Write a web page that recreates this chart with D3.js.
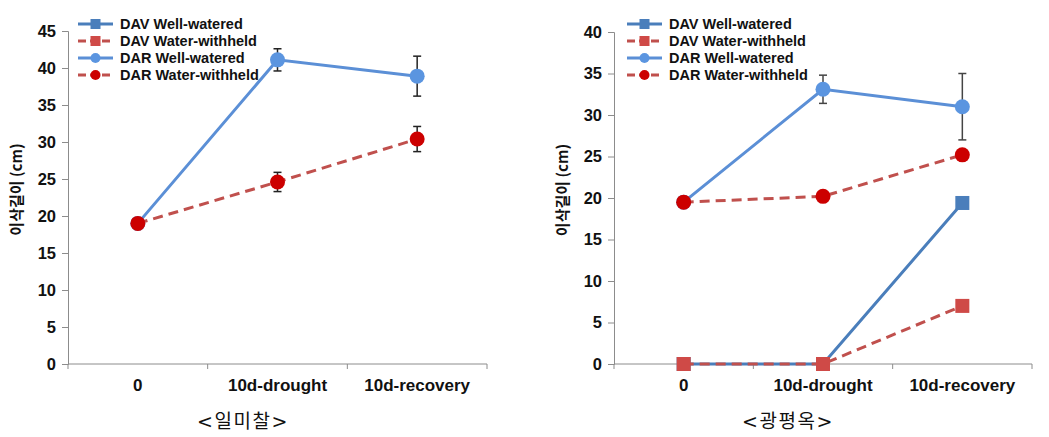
<!DOCTYPE html>
<html><head><meta charset="utf-8">
<script src="https://cdn.jsdelivr.net/npm/d3@7"></script>
<style>
body{margin:0;background:#fff;}
svg{display:block;}
</style></head>
<body>
<svg id="chart" width="1049" height="437"></svg>
<script>
const categories = ["0", "10d-drought", "10d-recovery"];
const seriesNames = ["DAV Well-watered", "DAV Water-withheld", "DAR Well-watered", "DAR Water-withheld"];

// Left panel <일미찰>
const leftTitle = "<일미찰>";
const leftTicks = [0, 5, 10, 15, 20, 25, 30, 35, 40, 45];
const leftDavWW = [null, null, null];
const leftDavWH = [null, null, null];
const leftDarWW = [19.0, 41.1, 38.9];
const leftDarWH = [19.0, 24.6, 30.4];
const leftDarWWErr = [0, 1.5, 2.7];
const leftDarWHErr = [0, 1.3, 1.7];

// Right panel <광평옥>
const rightTitle = "<광평옥>";
const rightTicks = [0, 5, 10, 15, 20, 25, 30, 35, 40];
const rightDavWW = [0, 0, 19.4];
const rightDavWH = [0, 0, 7.0];
const rightDarWW = [19.5, 33.1, 31.0];
const rightDarWH = [19.5, 20.2, 25.2];
const rightDarWWErr = [0, 1.7, 4.0];
const rightDarWHErr = [0, 0, 0];

const yTitle = "이삭길이 (cm)";

const styles = [
  {color: "#4a7ebb", dash: null, marker: "square", fill: "#4a7ebb"},
  {color: "#c0504d", dash: "10,6", marker: "square", fill: "#cf4a47"},
  {color: "#5b8fd6", dash: null, marker: "circle", fill: "#5b95e0"},
  {color: "#c0504d", dash: "10,6", marker: "circle", fill: "#cc0000"}
];

const svg = d3.select("#chart");
const fontLatin = "'Liberation Sans', Arial, sans-serif";
const fontKr = "'Noto Sans CJK KR', sans-serif";

function drawPanel(cfg) {
  const g = svg.append("g");
  const x = d3.scaleBand().domain(categories).range([cfg.x0, cfg.x1]);
  const y = d3.scaleLinear().domain([0, cfg.yMax]).range([cfg.yBottom, cfg.yTop]);

  const yAxis = d3.axisLeft(y).tickValues(cfg.ticks).tickSize(6).tickPadding(6);
  const ya = g.append("g").attr("transform", `translate(${cfg.x0},0)`).call(yAxis);
  ya.select(".domain").attr("stroke", "#8c8c8c");
  ya.selectAll(".tick line").attr("stroke", "#8c8c8c");
  ya.selectAll(".tick text").attr("font-family", fontLatin).attr("font-weight", "bold")
    .attr("font-size", 16.5).attr("fill", "#111");

  const xa = g.append("g").attr("transform", `translate(0,${cfg.yBottom})`);
  xa.append("line").attr("x1", cfg.x0).attr("x2", cfg.x1).attr("stroke", "#8c8c8c");
  const bounds = [cfg.x0, ...categories.map(c => x(c) + x.bandwidth())];
  xa.selectAll("line.tk").data(bounds).join("line").attr("class", "tk")
    .attr("x1", d => d).attr("x2", d => d).attr("y1", 0).attr("y2", 5).attr("stroke", "#8c8c8c");
  xa.selectAll("text").data(categories).join("text")
    .attr("x", d => x(d) + x.bandwidth() / 2).attr("y", 27)
    .attr("text-anchor", "middle").attr("font-family", fontLatin).attr("font-weight", "bold")
    .attr("font-size", 17).attr("fill", "#111").text(d => d);

  g.append("text").attr("transform", `translate(${cfg.yTitleX},${(cfg.yTop + cfg.yBottom) / 2 - 8}) rotate(-90)`)
    .attr("text-anchor", "middle").attr("font-family", fontKr).attr("font-weight", "bold")
    .attr("font-size", 15).attr("fill", "#111").text(yTitle);

  g.append("text").attr("x", cfg.titleX).attr("y", 428).attr("text-anchor", "middle")
    .attr("font-family", "'DejaVu Serif', 'Noto Sans CJK KR', serif").attr("font-size", 19)
    .attr("letter-spacing", 1.5).attr("fill", "#111").text(cfg.title);

  const cx = c => x(c) + x.bandwidth() / 2;
  const line = d3.line().defined(d => d.v != null).x(d => cx(d.c)).y(d => y(d.v));

  cfg.series.forEach((vals, i) => {
    const st = styles[i];
    const pts = categories.map((c, k) => ({c, v: vals[k], e: cfg.errs[i] ? cfg.errs[i][k] : 0}));
    if (pts.every(p => p.v == null)) return;
    g.append("path").datum(pts).attr("d", line).attr("fill", "none")
      .attr("stroke", st.color).attr("stroke-width", 3)
      .attr("stroke-dasharray", st.dash);
    pts.filter(p => p.v != null && p.e > 0).forEach(p => {
      const xx = cx(p.c);
      g.append("line").attr("x1", xx).attr("x2", xx).attr("y1", y(p.v + p.e)).attr("y2", y(p.v - p.e))
        .attr("stroke", cfg.errColor).attr("stroke-width", 1.5);
      [p.v + p.e, p.v - p.e].forEach(v => g.append("line").attr("x1", xx - 4).attr("x2", xx + 4)
        .attr("y1", y(v)).attr("y2", y(v)).attr("stroke", cfg.errColor).attr("stroke-width", 1.5));
    });
    pts.filter(p => p.v != null).forEach(p => {
      const xx = cx(p.c), yy = y(p.v);
      if (st.marker === "square") {
        g.append("rect").attr("x", xx - 7).attr("y", yy - 7).attr("width", 14).attr("height", 14)
          .attr("fill", st.fill);
      } else {
        g.append("circle").attr("cx", xx).attr("cy", yy).attr("r", 7.5).attr("fill", st.fill);
      }
    });
  });

  const lg = g.append("g");
  seriesNames.forEach((name, i) => {
    const st = styles[i];
    const yy = cfg.legendY + i * 17;
    lg.append("line").attr("x1", cfg.legendX).attr("x2", cfg.legendX + 35).attr("y1", yy).attr("y2", yy)
      .attr("stroke", st.color).attr("stroke-width", 3).attr("stroke-dasharray", st.dash ? "8,4" : null);
    const mx = cfg.legendX + 17.5;
    if (st.marker === "square") lg.append("rect").attr("x", mx - 5).attr("y", yy - 5).attr("width", 10).attr("height", 10).attr("fill", st.fill);
    else lg.append("circle").attr("cx", mx).attr("cy", yy).attr("r", 5).attr("fill", st.fill);
    lg.append("text").attr("x", cfg.legendX + 42).attr("y", yy + 5).attr("font-family", fontLatin)
      .attr("font-weight", "bold").attr("font-size", 14.5).attr("fill", "#111").text(name);
  });
}

drawPanel({
  x0: 68, x1: 487, yTop: 31, yBottom: 364, yMax: 45, ticks: leftTicks,
  yTitleX: 22, titleX: 243, title: leftTitle, legendX: 78, legendY: 24, errColor: "#222",
  series: [leftDavWW, leftDavWH, leftDarWW, leftDarWH],
  errs: [null, null, leftDarWWErr, leftDarWHErr]
});
drawPanel({
  x0: 614, x1: 1032, yTop: 32, yBottom: 364, yMax: 40, ticks: rightTicks,
  yTitleX: 568, titleX: 788, title: rightTitle, legendX: 627, legendY: 24, errColor: "#444",
  series: [rightDavWW, rightDavWH, rightDarWW, rightDarWH],
  errs: [null, null, rightDarWWErr, rightDarWHErr]
});
</script>
</body></html>
